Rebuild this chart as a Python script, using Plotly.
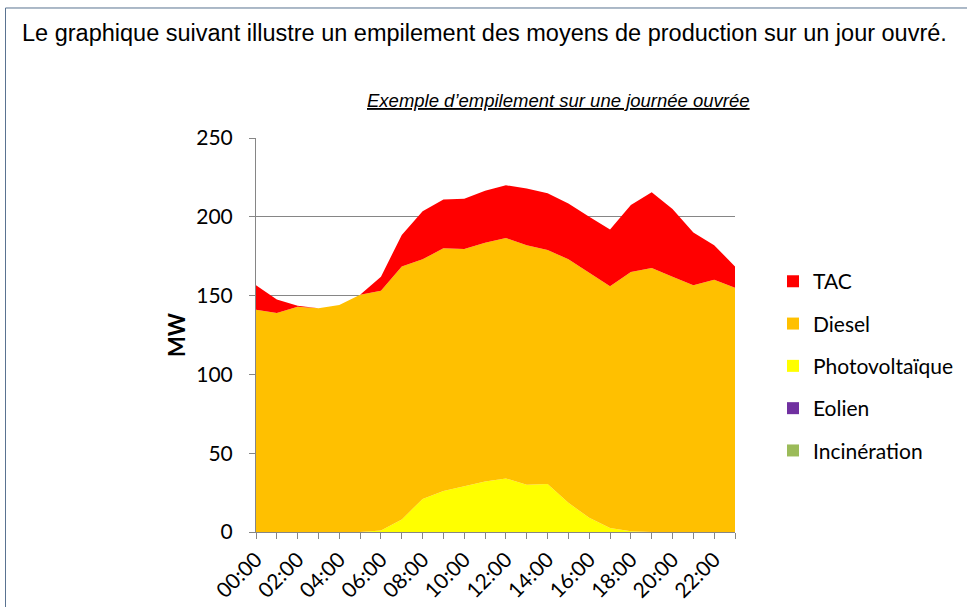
import plotly.graph_objects as go

# Hourly stacking of generation means over a working day (MW)
hours = ["00:00", "01:00", "02:00", "03:00", "04:00", "05:00", "06:00", "07:00",
         "08:00", "09:00", "10:00", "11:00", "12:00", "13:00", "14:00", "15:00",
         "16:00", "17:00", "18:00", "19:00", "20:00", "21:00", "22:00", "23:00"]

incineration = [0, 0, 0, 0, 0, 0, 0, 0, 0, 0, 0, 0, 0, 0, 0, 0, 0, 0, 0, 0, 0, 0, 0, 0]
eolien = [0, 0, 0, 0, 0, 0, 0, 0, 0, 0, 0, 0, 0, 0, 0, 0, 0, 0, 0, 0, 0, 0, 0, 0]
photovoltaique = [0, 0, 0, 0, 0, 0, 1, 8, 21, 26, 29, 32, 34, 30, 30.5, 18.5,
                  9, 2.5, 0.5, 0, 0, 0, 0, 0]
diesel = [141, 139, 143, 142, 144, 150.5, 152, 160.5, 152, 154, 150.5, 151.5,
          152.5, 152, 148.5, 154.5, 155.5, 153.5, 164.5, 167.5, 162, 156.5, 160, 155]
tac = [15.5, 8.5, 0.5, 0, 0, 0, 9, 20, 30.5, 31, 32, 33, 33.5, 36, 36, 35.5,
       35.5, 36, 42.5, 48, 43, 33.5, 22, 13.5]

y_ticks = [0, 50, 100, 150, 200, 250]
x_labels = ["00:00", "", "02:00", "", "04:00", "", "06:00", "", "08:00", "",
            "10:00", "", "12:00", "", "14:00", "", "16:00", "", "18:00", "",
            "20:00", "", "22:00", ""]

# bottom of the stack first
series = [
    ("Incinération", incineration, "#9BBB59"),
    ("Eolien", eolien, "#7030A0"),
    ("Photovoltaïque", photovoltaique, "#FFFF00"),
    ("Diesel", diesel, "#FFC000"),
    ("TAC", tac, "#FF0000"),
]

W, H = 967, 607
L, R, T, B = 256, 735, 137.7, 532.3


def px_x(p):
    return (p - L) / (R - L)


def px_y(p):
    return (B - p) / (B - T)


fig = go.Figure()

for name, vals, color in series:
    fig.add_trace(go.Scatter(
        x=hours, y=vals, name=name, stackgroup="prod", mode="lines",
        line=dict(width=0, color=color), fillcolor=color, showlegend=False,
        hoverinfo="x+y+name",
    ))

# square legend keys, top of the stack listed first
for name, vals, color in reversed(series):
    fig.add_trace(go.Scatter(
        x=[None], y=[None], name=name, mode="markers", legendgroup=name,
        marker=dict(symbol="square", size=12, color=color), showlegend=True,
    ))

fig.update_layout(
    width=W, height=H,
    margin=dict(l=L, r=W - R, t=T, b=H - B, autoexpand=False),
    paper_bgcolor="white", plot_bgcolor="white",
    font=dict(family="Lato, Carlito, sans-serif", size=20, color="#000000"),
    showlegend=True,
    legend=dict(
        x=px_x(773), y=px_y(261), xanchor="left", yanchor="top",
        traceorder="grouped", tracegroupgap=12,
        font=dict(family="Lato, sans-serif", size=21, color="#000000"),
        bgcolor="rgba(0,0,0,0)", itemclick=False,
    ),
    xaxis=dict(
        type="category", range=[0, 23], tickmode="array",
        tickvals=hours, ticktext=x_labels, tickangle=-45,
        ticks="outside", ticklen=6, tickcolor="#868686",
        showline=True, linecolor="#868686", linewidth=1,
        showgrid=False, zeroline=False, automargin=False,
        tickfont=dict(family="Lato, sans-serif", size=21),
    ),
    yaxis=dict(
        range=[0, 250], tickvals=y_ticks,
        ticks="outside", ticklen=6, tickcolor="#868686",
        showline=True, linecolor="#868686", linewidth=1,
        showgrid=True, gridcolor="#868686", gridwidth=1,
        zeroline=False, ticklabelstandoff=12, automargin=False,
        tickfont=dict(family="Lato, sans-serif", size=21),
        title=dict(text="<b>MW</b>", standoff=4,
                   font=dict(family="Lato, sans-serif", size=22)),
    ),
    annotations=[
        dict(text="Le graphique suivant illustre un empilement des moyens de production sur un jour ouvré.",
             xref="paper", yref="paper", x=px_x(20), y=px_y(33),
             xanchor="left", yanchor="middle", showarrow=False,
             font=dict(family="Liberation Sans, Arial, sans-serif", size=23.5, color="#000000")),
        dict(text="<i><u>Exemple d’empilement sur une journée ouvrée</u></i>",
             xref="paper", yref="paper", x=px_x(558), y=px_y(100),
             xanchor="center", yanchor="middle", showarrow=False,
             font=dict(family="Liberation Sans, Arial, sans-serif", size=18.5, color="#000000")),
    ],
    shapes=[
        dict(type="rect", xref="paper", yref="paper",
             x0=px_x(5.5), x1=px_x(1000), y0=px_y(7.5), y1=px_y(640),
             line=dict(color="#5A7391", width=1), fillcolor="rgba(0,0,0,0)",
             layer="below"),
    ],
)

fig.write_html("out.html")
